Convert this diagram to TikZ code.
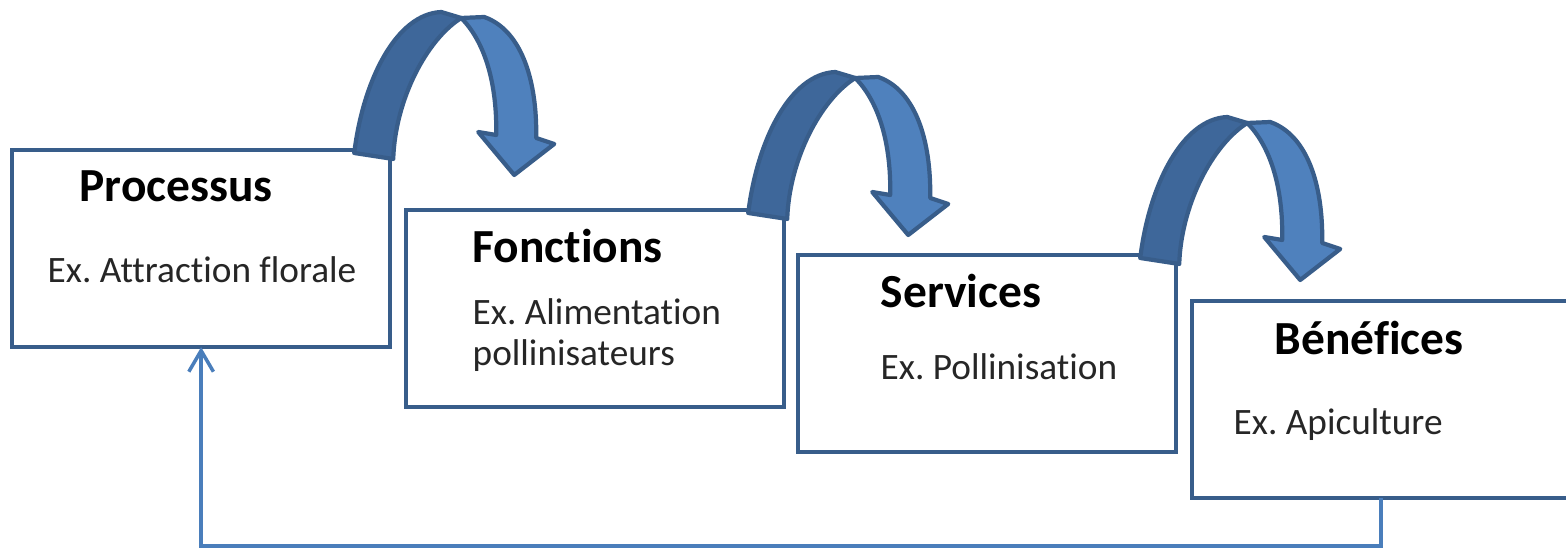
\documentclass[tikz,border=0pt]{standalone}
\usepackage{fontspec}
\setmainfont[Ligatures={NoCommon}]{Carlito}
\usetikzlibrary{arrows.meta}
\frenchspacing

\definecolor{boxline}{RGB}{56,93,138}
\definecolor{ribbondark}{RGB}{62,103,154}
\definecolor{ribbonlight}{RGB}{79,129,189}
\definecolor{loopline}{RGB}{74,126,187}
\definecolor{bodytext}{RGB}{38,38,38}

\tikzset{
  stagebox/.style={draw=boxline, line width=1.15pt, fill=white, rectangle,
    minimum width=3.78cm, minimum height=1.97cm, inner sep=0pt, outer sep=0pt,
    anchor=north west},
  stagetitle/.style={font=\fontsize{13.5}{16}\selectfont\bfseries, text=black,
    inner sep=0pt, anchor=base west},
  stagebody/.style={font=\fontsize{10.6}{13}\selectfont, text=bodytext,
    inner sep=0pt, anchor=base west},
  ribbon/.style={draw=boxline, line width=1.2pt, line join=round},
  loopback/.style={draw=loopline, line width=1pt,
    -{Straight Barb[length=6pt,width=7pt,line width=1pt]}},
  pics/curvedarrow/.style={code={
    % rising back of the ribbon
    \path[ribbon, fill=ribbondark]
      (-36,3) .. controls (-27,-70) and (6,-136) .. (51,-138)
      -- (71,-132) .. controls (36,-110) and (5,-50) .. (3,9) -- cycle;
    % descending front of the ribbon with its head
    \path[ribbon, fill=ribbonlight]
      (71,-132) -- (94,-133) .. controls (131,-120) and (147,-70) .. (146,-12)
      -- (164,-6) -- (124,25) -- (88,-18) -- (106,-15)
      .. controls (107,-70) and (93,-110) .. (71,-132) -- cycle;
  }}
}

\begin{document}
\begin{tikzpicture}[x=0.01cm, y=-0.01cm]
  \useasboundingbox (0,0) rectangle (1566,549);

  % stage boxes
  \node[stagebox] (b1) at (12,150) {};
  \node[stagebox] (b2) at (406,210) {};
  \node[stagebox] (b3) at (798,255) {};
  \node[stagebox] (b4) at (1192,301) {};

  % texts
  \node[stagetitle] (t1) at (79,202) {Processus};
  \node[stagebody] (e1) at (47,283) {Ex. Attraction florale};

  \node[stagetitle] (t2) at (472,263) {Fonctions};
  \node[stagebody] (e2a) at (472,325) {Ex. Alimentation};
  \node[stagebody] (e2b) at (472,366) {pollinisateurs};

  \node[stagetitle] (t3) at (880,308) {Services};
  \node[stagebody] (e3) at (880,380) {Ex. Pollinisation};

  \node[stagetitle] (t4) at (1274,355) {Bénéfices};
  \node[stagebody] (e4) at (1233,435) {Ex. Apiculture};

  % curved arrows between stages
  \pic at (b1.north east) {curvedarrow};
  \pic at (b2.north east) {curvedarrow};
  \pic at (b3.north east) {curvedarrow};

  % feedback loop back to the first stage
  \draw[loopback] (b4.south) -- ++(0,48) coordinate (lb) -| (b1.south);
\end{tikzpicture}
\end{document}
